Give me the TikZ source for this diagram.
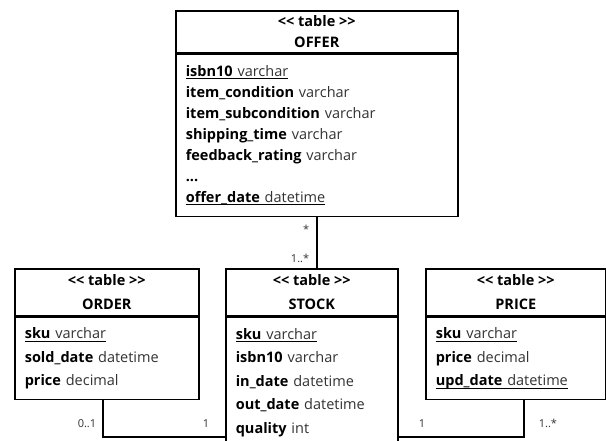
\documentclass[tikz,border=0pt]{standalone}
\usepackage{fontspec}
\setmainfont{Open Sans}
\definecolor{typegray}{RGB}{50,50,50}
\usetikzlibrary{calc}
\newsavebox{\keybox}
\newcommand{\stereo}{<\kern0pt< table >\kern0pt>}
\newcommand{\fld}[2]{\textbf{#1} {\color{typegray}#2}}
\newcommand{\keyfld}[2]{\leavevmode\sbox{\keybox}{\fld{#1}{#2}}\rlap{\rule[-3pt]{\wd\keybox}{1.1pt}}\usebox{\keybox}}

\begin{document}
\begin{tikzpicture}[x=1pt,y=-1pt,line width=1.6pt,
  tblhead/.style={draw,inner sep=0pt,align=center,anchor=north west},
  tblbody/.style={draw,inner xsep=10pt,inner ysep=0pt,align=left,anchor=north west},
  mult/.style={inner sep=0pt,font=\fontsize{11}{13}\selectfont,text=typegray}]
\useasboundingbox (0,0) rectangle (606,440);
\clip (0,0) rectangle (606,440);
% upper table
\node[tblhead,minimum width=282pt,minimum height=42pt,font=\fontsize{14.5}{21}\selectfont\bfseries] (offer) at (175,10) {\stereo\\OFFER};
\node[tblbody,text width=262pt,minimum height=162pt,font=\fontsize{14.5}{21}\selectfont] (offerbody) at (offer.south west) {%
  \keyfld{isbn10}{varchar}\\
  \fld{item\_condition}{varchar}\\
  \fld{item\_subcondition}{varchar}\\
  \fld{shipping\_time}{varchar}\\
  \fld{feedback\_rating}{varchar}\\
  \textbf{...}\\
  \keyfld{offer\_date}{datetime}};
% lower tables
\node[tblhead,minimum width=184pt,minimum height=47pt,font=\fontsize{14.5}{23.5}\selectfont\bfseries] (order) at (14,268) {\stereo\\ORDER};
\node[tblbody,text width=164pt,minimum height=82pt,font=\fontsize{14.5}{23.5}\selectfont] (orderbody) at (order.south west) {%
  \keyfld{sku}{varchar}\\
  \fld{sold\_date}{datetime}\\
  \fld{price}{decimal}};
\node[tblhead,minimum width=172pt,minimum height=47pt,font=\fontsize{14.5}{23.5}\selectfont\bfseries] (stock) at (225,268) {\stereo\\STOCK};
\node[tblbody,text width=152pt,minimum height=130pt,font=\fontsize{14.5}{23.5}\selectfont] (stockbody) at (stock.south west) {%
  \keyfld{sku}{varchar}\\
  \fld{isbn10}{varchar}\\
  \fld{in\_date}{datetime}\\
  \fld{out\_date}{datetime}\\
  \fld{quality}{int}};
\node[tblhead,minimum width=180pt,minimum height=47pt,font=\fontsize{14.5}{23.5}\selectfont\bfseries] (price) at (425,268) {\stereo\\PRICE};
\node[tblbody,text width=160pt,minimum height=82pt,font=\fontsize{14.5}{23.5}\selectfont] (pricebody) at (price.south west) {%
  \keyfld{sku}{varchar}\\
  \fld{price}{decimal}\\
  \keyfld{upd\_date}{datetime}};
% links
\coordinate (orderbend) at (103,437);
\coordinate (pricebend) at (524,437);
\draw (offerbody.south) -- (offerbody.south |- stock.north);
\draw (orderbend |- orderbody.south) -- (orderbend) -- (orderbend -| stockbody.west);
\draw (pricebend |- pricebody.south) -- (pricebend) -- (pricebend -| stockbody.east);
% multiplicities
\node[mult,anchor=base east] (offermult) at (310,233) {*};
\node[mult,anchor=base east] (stockmult) at (310,262) {1..*};
\node[mult,anchor=base east] (ordermult) at (97,427) {0..1};
\node[mult,anchor=base east] (stockleft) at (210,427) {1};
\node[mult,anchor=base] (stockright) at (422,427) {1};
\node[mult,anchor=base west] (pricemult) at (538,427) {1..*};
\end{tikzpicture}
\end{document}
